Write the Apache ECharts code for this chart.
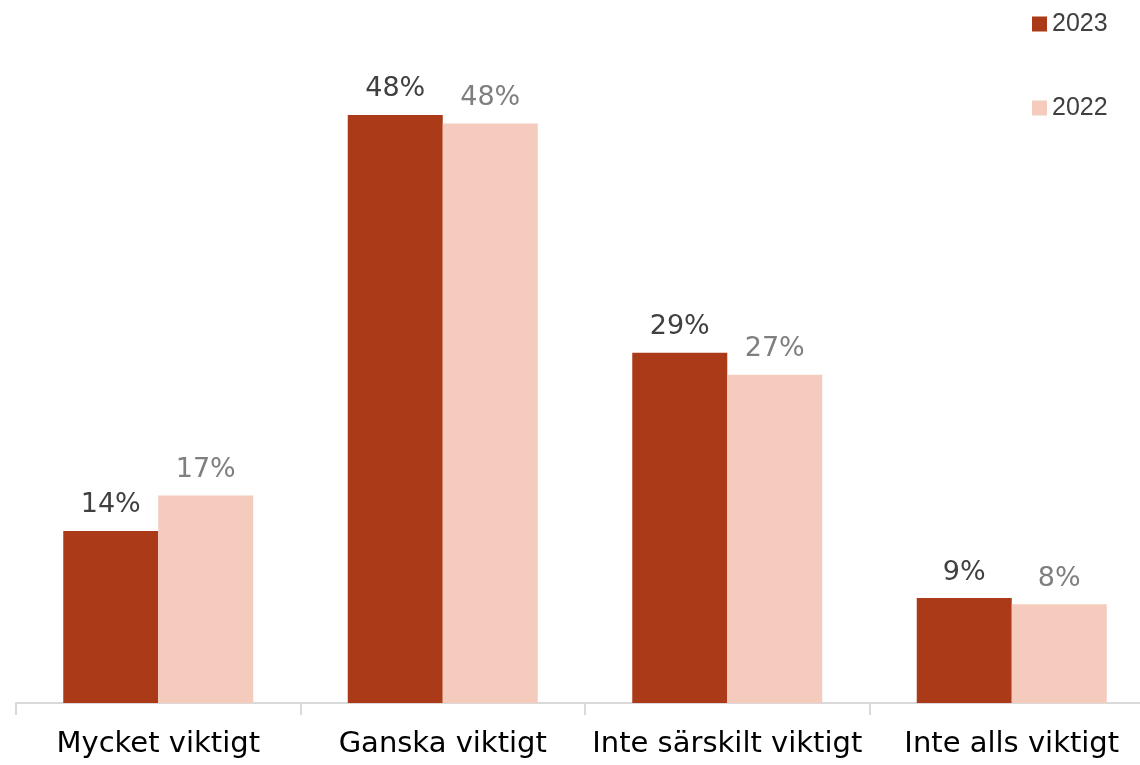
<!DOCTYPE html>
<html>
<head>
<meta charset="utf-8">
<script src="https://cdn.jsdelivr.net/npm/echarts@6/dist/echarts.min.js"></script>
<style>
  html, body { margin: 0; padding: 0; background: #fff; }
  #chart { width: 1140px; height: 765px; }
</style>
</head>
<body>
<div id="chart"></div>
<script>
let categories = ['Mycket viktigt', 'Ganska viktigt', 'Inte särskilt viktigt', 'Inte alls viktigt']
let values2023 = [14.1, 48.2, 28.7, 8.6]
let values2022 = [17.0, 47.5, 26.9, 8.1]

let chart = echarts.init(document.getElementById('chart'))
let labelFont = '"DejaVu Sans", "Noto Sans", sans-serif'
let option = {
    animation: false,
    legend: {
        orient: 'vertical',
        left: 1027,
        top: 4,
        icon: 'rect',
        itemWidth: 15,
        itemHeight: 15,
        itemGap: 54,
        textStyle: {
            fontFamily: '"Liberation Sans", Arial, sans-serif',
            fontSize: 25,
            lineHeight: 30,
            color: '#404040'
        },
        data: ['2023', '2022']
    },
    grid: {
        left: 16,
        right: -14,
        top: 93,
        bottom: 62,
        outerBoundsMode: 'none'
    },
    xAxis: {
        type: 'category',
        data: categories,
        axisLine: {
            lineStyle: { color: '#d9d9d9', width: 2 }
        },
        // ticks on the category boundaries
        axisTick: {
            show: true,
            length: 12,
            lineStyle: { color: '#d9d9d9', width: 2 }
        },
        axisLabel: {
            interval: 0,
            margin: 27,
            fontFamily: labelFont,
            fontSize: 29,
            color: '#000'
        }
    },
    yAxis: {
        type: 'value',
        min: 0,
        max: 50,
        show: false,
        splitLine: { show: false }
    },
    series: [{
        name: '2023',
        type: 'bar',
        data: values2023,
        barWidth: 95,
        barGap: '0%',
        itemStyle: { color: '#ab3a19' },
        label: {
            show: true,
            position: 'top',
            distance: 12,
            fontFamily: labelFont,
            fontSize: 27,
            color: '#404040',
            formatter: p => Math.round(p.value) + '%'
        }
    }, {
        name: '2022',
        type: 'bar',
        data: values2022,
        barWidth: 95,
        barGap: '0%',
        itemStyle: { color: '#f5cbbe' },
        label: {
            show: true,
            position: 'top',
            distance: 12,
            fontFamily: labelFont,
            fontSize: 27,
            color: '#7f7f7f',
            formatter: p => Math.round(p.value) + '%'
        }
    }]
}
chart.setOption(option)
</script>
</body>
</html>
